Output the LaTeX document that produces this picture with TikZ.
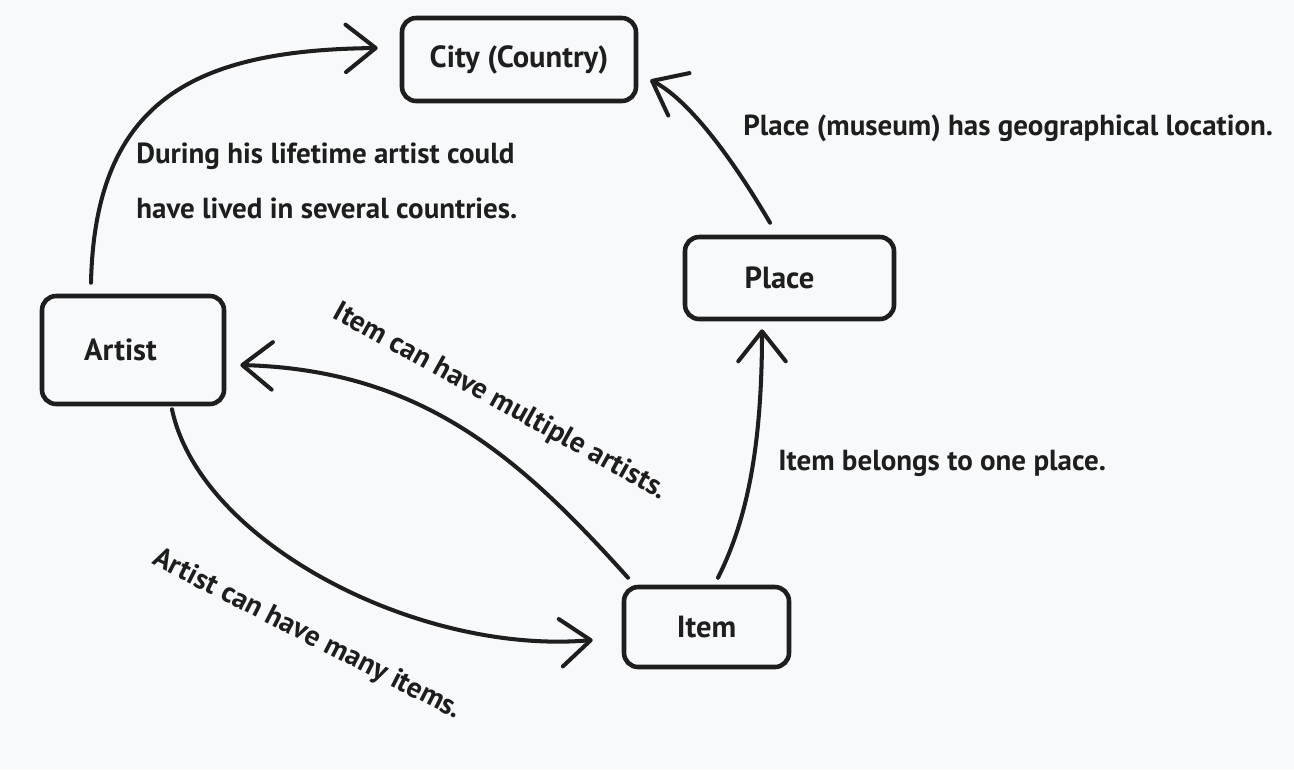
\documentclass[tikz,border=0pt]{standalone}
\usepackage{fontspec}
\setmainfont{PT Sans}
\usepackage{xcolor}
\usetikzlibrary{arrows.meta}

\definecolor{ink}{HTML}{1E1E1E}
\definecolor{paper}{HTML}{F8F9FA}

\begin{document}
\begin{tikzpicture}[
      x=0.02cm, y=-0.02cm,
      box/.style={draw=ink, line width=2.6pt, rounded corners=8pt, align=center, inner sep=0pt, text=ink, font=\bfseries\fontsize{17.4}{20}\selectfont},
      lbl/.style={inner sep=0pt, text=ink, align=left, font=\bfseries\fontsize{16.5}{31}\selectfont},
      arr/.style={draw=ink, line width=2.3pt, line cap=round, -{Straight Barb[length=0.6cm, width=0.95cm, round]}},
    ]
    \fill[paper] (0,0) rectangle (1294,769);
    \useasboundingbox (0,0) rectangle (1294,769);

    % boxes
    \node[box, minimum width=4.68cm, minimum height=1.66cm] (city) at (519,59.5) {City (Country)};
    \node[box, minimum width=4.18cm, minimum height=1.64cm] (place) at (789.5,278) {Place\hspace{0.4cm}};
    \node[box, minimum width=3.64cm, minimum height=2.16cm] (artist) at (133,350) {Artist\hspace{0.5cm}};
    \node[box, minimum width=3.30cm, minimum height=1.60cm] (item) at (706.5,627) {Item};

    % labels
    \node[lbl, anchor=west] (lifetime) at (136,181) {During his lifetime artist could\\have lived in several countries.};
    \node[lbl, anchor=west] (museum) at (743,128) {Place (museum) has geographical location.};
    \node[lbl, rotate=-29] (multiple) at (500,402) {Item can have multiple artists.};
    \node[lbl, anchor=west] (belongs) at (778,463) {Item belongs to one place.};
    \node[lbl, rotate=-27] (many) at (307,635) {Artist can have many items.};

    % connectors
    \draw[arr] ([xshift=-0.84cm,yshift=0.22cm]artist.north) .. controls +(4,-185) and +(-180,2) .. ([xshift=-0.44cm,yshift=0.23cm]city.west);
    \draw[arr] ([xshift=-0.39cm,yshift=0.24cm]place.north) .. controls +(-50,-85) and +(30,15) .. ([xshift=0.24cm,yshift=-0.41cm]city.east);
    \draw[arr] ([xshift=0.23cm,yshift=0.14cm]item.north) .. controls +(25,-50) and +(0,130) .. ([xshift=-0.55cm,yshift=-0.16cm]place.south);
    \draw[arr] ([xshift=-1.57cm,yshift=0.14cm]item.north) .. controls +(-108,-120) and +(182,5) .. ([xshift=0.28cm,yshift=-0.30cm]artist.east);
    \draw[arr] ([xshift=0.78cm,yshift=-0.06cm]artist.south) .. controls +(28,133) and +(-175,15) .. ([xshift=-0.58cm,yshift=-0.26cm]item.west);
  \end{tikzpicture}
\end{document}
